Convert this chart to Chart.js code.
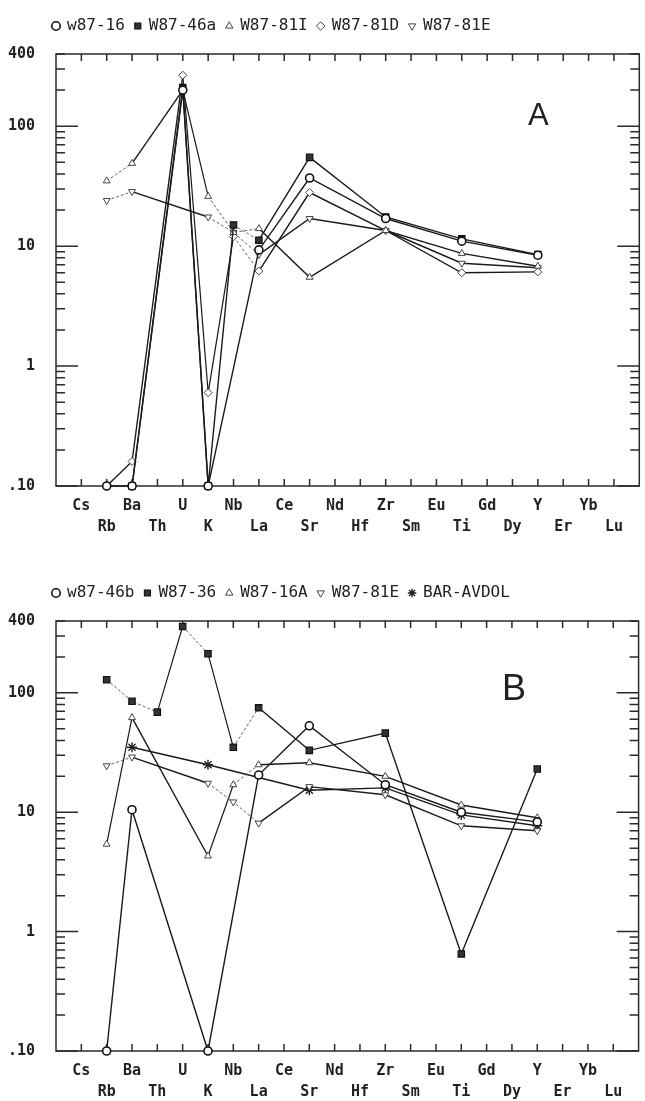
<!DOCTYPE html>
<html>
<head>
<meta charset="utf-8">
<script src="https://cdn.jsdelivr.net/npm/chart.js@4.4.1/dist/chart.umd.min.js"></script>
<style>
  body { margin: 0; background: #fff; }
  #page { position: relative; width: 645px; height: 1101px; overflow: hidden; }
  .panel { position: absolute; left: 0; width: 645px; }
  .tag { position: absolute; font-family: 'Liberation Sans', Arial, sans-serif; color: #222; line-height: 1; }
</style>
</head>
<body>
<div id="page">
  <div class="panel" style="top:0;height:550px"><canvas id="chartA"></canvas></div>
  <div class="panel" style="top:567px;height:534px"><canvas id="chartB"></canvas></div>
  <div class="tag" style="left:528px;top:99px;font-size:31px">A</div>
  <div class="tag" style="left:502px;top:670px;font-size:36px">B</div>
</div>
<script>
// element order on the x axis
const elements = ['Cs','Rb','Ba','Th','U','K','Nb','La','Ce','Sr','Nd','Hf','Zr','Sm','Eu','Ti','Gd','Dy','Y','Er','Yb','Lu'];
const yTickValues = [0.1, 1, 10, 100, 400];
const yTickLabels = ['.10', '1', '10', '100', '400'];

// panel A
const namesA = ['w87-16', 'W87-46a', 'W87-81I', 'W87-81D', 'W87-81E'];
//                 Cs   Rb    Ba    Th   U    K     Nb    La    Ce   Sr   Nd   Hf   Zr    Sm   Eu   Ti    Gd   Dy   Y    Er   Yb   Lu
const w87_16  = [null, 0.1,  0.1,  null, 200, 0.1,  null, 9.3,  null, 37,  null, null, 17,   null, null, 11,   null, null, 8.4, null, null, null];
const w87_46a = [null, null, 0.1,  null, 210, 0.1,  15,   11.2, null, 55,  null, null, 17.5, null, null, 11.5, null, null, 8.5, null, null, null];
const w87_81I = [null, 35,   49,   null, 200, 26,   13,   14,   null, 5.5, null, null, 13.5, null, null, 8.7,  null, null, 6.8, null, null, null];
const w87_81D = [null, 0.1,  0.16, null, 266, 0.6,  12,   6.2,  null, 28,  null, null, 13.5, null, null, 6.0,  null, null, 6.1, null, null, null];
const w87_81E = [null, 24,   28.5, null, null, 17.5, 13,  8.5,  null, 17,  null, null, 13.5, null, null, 7.2,  null, null, 6.6, null, null, null];

// panel B
const namesB = ['w87-46b', 'W87-36', 'W87-16A', 'W87-81E', 'BAR-AVDOL'];
const w87_46b   = [null, 0.1,  10.5, null, null, 0.1,  null, 20.5, null, 53,   null, null, 17,   null, null, 10,   null, null, 8.3, null, null, null];
const w87_36    = [null, 129,  85,   69,   360,  213,  35,   75,   null, 33,   null, null, 46,   null, null, 0.65, null, null, 23,  null, null, null];
const w87_16A   = [null, 5.4,  62,   null, null, 4.3,  17,   25,   null, 26,   null, null, 20,   null, null, 11.5, null, null, 9,   null, null, null];
const w87_81E_b = [null, 24.5, 29,   null, null, 17.5, 12.2, 8.1,  null, 16.4, null, null, 14,   null, null, 7.7,  null, null, 7,   null, null, null];
const barAvdol  = [null, null, 35,   null, null, 25,   null, null, null, 15.3, null, null, 16,   null, null, 9.5,  null, null, 7.7, null, null, null];

const mono = "'DejaVu Sans Mono', 'Liberation Mono', monospace";
const ink = '#222';

const markers = {
  circle:  { pointStyle: 'circle', pointRadius: 4, pointBackgroundColor: '#fff', pointBorderColor: '#111', pointBorderWidth: 1.6 },
  square:  { pointStyle: 'rect', pointRadius: 4.5, pointBackgroundColor: '#333', pointBorderColor: '#111', pointBorderWidth: 1.2 },
  tri:     { pointStyle: 'triangle', pointRadius: 4, pointBackgroundColor: '#fff', pointBorderColor: '#444', pointBorderWidth: 1 },
  diamond: { pointStyle: 'rectRot', pointRadius: 4, pointBackgroundColor: '#fff', pointBorderColor: '#444', pointBorderWidth: 1 },
  triDown: { pointStyle: 'triangle', pointRotation: 180, pointRadius: 4, pointBackgroundColor: '#fff', pointBorderColor: '#444', pointBorderWidth: 1 },
  star:    { pointStyle: 'star', pointRadius: 5, pointBackgroundColor: '#fff', pointBorderColor: '#222', pointBorderWidth: 1.4 }
};

// steep segments print as solid lines, the flatter ones as dotted plotter lines
function segKind(c) {
  if (c.p0.parsed.y <= 0.1 || c.p1.parsed.y <= 0.1) return 'low';
  const slope = Math.abs(c.p1.y - c.p0.y) / Math.abs(c.p1.x - c.p0.x);
  return slope > 1.7 ? 'steep' : 'dot';
}
const segment = {
  borderColor: c => segKind(c) === 'dot' ? '#666' : '#1a1a1a',
  borderWidth: c => segKind(c) === 'low' ? 1.4 : (segKind(c) === 'steep' ? 1.2 : 1),
  borderDash: c => segKind(c) === 'dot' ? [3, 2] : []
};

function series(label, values, marker) {
  return Object.assign({
    label: label,
    data: values.map((v, i) => ({ x: i, y: v })),
    borderColor: '#333',
    borderWidth: 1,
    spanGaps: true,
    tension: 0,
    clip: false,
    segment: segment
  }, markers[marker]);
}

// box round the plot with inward ticks, like the plotter output
const framePlugin = {
  id: 'frame',
  afterLayout(chart) {
    // legend starts above the plot's left edge
    chart.legend.left += 43;
  },
  beforeDatasetsDraw(chart) {
    const { ctx, chartArea: a, scales } = chart;
    const x = scales.x, y = scales.y;
    ctx.save();
    ctx.strokeStyle = '#2a2a2a';
    ctx.lineWidth = 1.5;
    ctx.strokeRect(a.left, a.top, a.right - a.left, a.bottom - a.top);
    ctx.beginPath();
    elements.forEach((e, i) => {
      const px = x.getPixelForValue(i);
      ctx.moveTo(px, a.bottom); ctx.lineTo(px, a.bottom - 7);
      ctx.moveTo(px, a.top); ctx.lineTo(px, a.top + 7);
    });
    [0.1, 1, 10, 100].forEach(d => {
      for (let m = 1; m <= 9; m++) {
        const v = m * d;
        if (v > 400) break;
        const py = y.getPixelForValue(v);
        const len = m === 1 ? 22 : 9;
        ctx.moveTo(a.left, py); ctx.lineTo(a.left + len, py);
        ctx.moveTo(a.right, py); ctx.lineTo(a.right - len, py);
      }
    });
    ctx.stroke();
    ctx.restore();
  }
};

function makeChart(id, names, data, marks, axisH) {
  new Chart(document.getElementById(id), {
    type: 'line',
    data: { datasets: names.map((n, i) => series(n, data[i], marks[i])) },
    options: {
      responsive: true,
      maintainAspectRatio: false,
      animation: false,
      layout: { padding: { left: 0, right: 2, top: 8, bottom: 0 } },
      plugins: {
        tooltip: { enabled: false },
        legend: {
          position: 'top',
          align: 'start',
          labels: {
            usePointStyle: true,
            boxWidth: 6,
            boxHeight: 6,
            padding: 10,
            color: ink,
            font: { family: mono, size: 16 }
          }
        }
      },
      scales: {
        x: {
          type: 'linear',
          min: -1,
          max: 22,
          afterBuildTicks: s => { s.ticks = elements.map((e, i) => ({ value: i })); },
          afterFit: s => { s.height = axisH; },
          grid: { display: false, drawTicks: false },
          border: { display: false },
          ticks: {
            autoSkip: false,
            maxRotation: 0,
            padding: 10,
            color: ink,
            font: { family: mono, size: 15, weight: 'bold', lineHeight: 1.4 },
            callback: v => Number.isInteger(v) && elements[v] ? (v % 2 === 0 ? [elements[v], ''] : ['', elements[v]]) : ''
          }
        },
        xTop: {
          type: 'linear',
          axis: 'x',
          position: 'top',
          afterFit: s => { s.height = 10; },
          grid: { display: false, drawTicks: false },
          border: { display: false },
          ticks: { display: false }
        },
        y: {
          type: 'logarithmic',
          min: 0.1,
          max: 400,
          afterBuildTicks: s => { s.ticks = yTickValues.map(v => ({ value: v })); },
          afterFit: s => { s.width = 56; },
          grid: { display: false, drawTicks: false },
          border: { display: false },
          ticks: {
            autoSkip: false,
            padding: 21,
            color: ink,
            font: { family: mono, size: 15, weight: 'bold' },
            callback: v => { const k = yTickValues.indexOf(v); return k >= 0 ? yTickLabels[k] : ''; }
          }
        }
      }
    },
    plugins: [framePlugin]
  });
}

makeChart('chartA', namesA, [w87_16, w87_46a, w87_81I, w87_81D, w87_81E],
  ['circle', 'square', 'tri', 'diamond', 'triDown'], 64);
makeChart('chartB', namesB, [w87_46b, w87_36, w87_16A, w87_81E_b, barAvdol],
  ['circle', 'square', 'tri', 'triDown', 'star'], 50);
</script>
</body>
</html>
